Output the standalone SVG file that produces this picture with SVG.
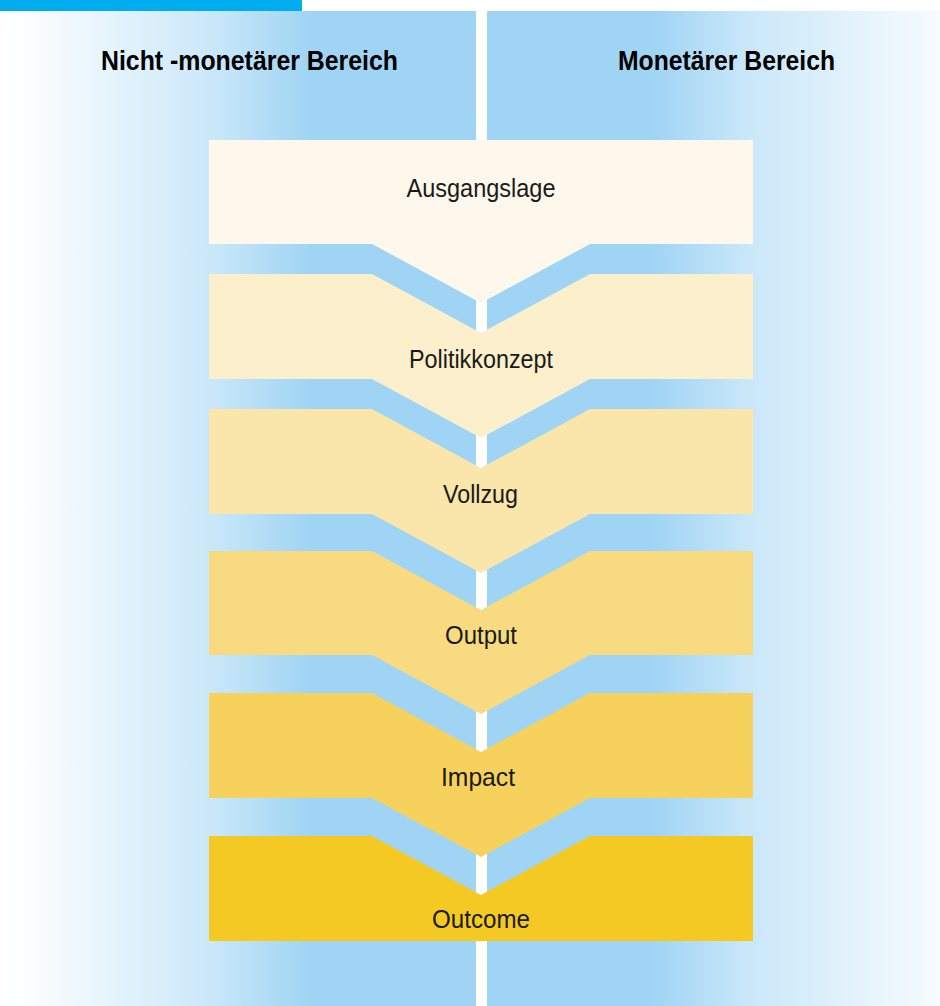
<svg xmlns="http://www.w3.org/2000/svg" width="940" height="1006" viewBox="0 0 940 1006">
  <defs>
    <linearGradient id="gl" gradientUnits="userSpaceOnUse" x1="0" y1="0" x2="476" y2="0">
      <stop offset="0" stop-color="#FFFFFF"/>
      <stop offset="0.06" stop-color="#FBFDFF"/>
      <stop offset="0.44" stop-color="#CBE8F9"/>
      <stop offset="0.655" stop-color="#9FD4F4"/>
      <stop offset="1" stop-color="#9FD4F4"/>
    </linearGradient>
    <linearGradient id="gr" gradientUnits="userSpaceOnUse" x1="487" y1="0" x2="940" y2="0">
      <stop offset="0" stop-color="#9FD4F4"/>
      <stop offset="0.362" stop-color="#9FD4F4"/>
      <stop offset="0.587" stop-color="#CBE8F9"/>
      <stop offset="1" stop-color="#F7FBFE"/>
    </linearGradient>
    <style>
      .hdr { font-family: "Liberation Sans", Arial, sans-serif; font-weight: bold; font-size: 27px; fill: #000; }
      .lbl { font-family: "Liberation Sans", Arial, sans-serif; font-size: 25px; fill: #1a1a1a; text-anchor: middle; }
    </style>
  </defs>

  <rect x="0" y="0" width="940" height="1006" fill="#FFFFFF"/>
  <rect x="0" y="0" width="302" height="11" fill="#00AEEF"/>
  <rect x="0" y="11" width="476" height="995" fill="url(#gl)"/>
  <rect x="487" y="11" width="453" height="995" fill="url(#gr)"/>

  <text class="hdr" x="101" y="70" textLength="297" lengthAdjust="spacingAndGlyphs">Nicht -monetärer Bereich</text>
  <text class="hdr" x="618" y="70" textLength="217" lengthAdjust="spacingAndGlyphs">Monetärer Bereich</text>

  <g id="ausgangslage">
    <path d="M209,140 H753 V244 H590 L481,303 L372,244 H209 Z" fill="#FEF8EC"/>
    <text class="lbl" x="481" y="197" textLength="149" lengthAdjust="spacingAndGlyphs">Ausgangslage</text>
  </g>
  <g id="politikkonzept">
    <path d="M209,274 H372 L481,333 L590,274 H753 V379 H590 L481,438 L372,379 H209 Z" fill="#FCEFCB"/>
    <text class="lbl" x="481" y="368" textLength="144" lengthAdjust="spacingAndGlyphs">Politikkonzept</text>
  </g>
  <g id="vollzug">
    <path d="M209,409 H372 L481,468 L590,409 H753 V514 H590 L481,573 L372,514 H209 Z" fill="#FAE5AA"/>
    <text class="lbl" x="480.5" y="503" textLength="75" lengthAdjust="spacingAndGlyphs">Vollzug</text>
  </g>
  <g id="output">
    <path d="M209,551 H372 L481,610 L590,551 H753 V655 H590 L481,714 L372,655 H209 Z" fill="#F8DB80"/>
    <text class="lbl" x="481" y="644" textLength="72" lengthAdjust="spacingAndGlyphs">Output</text>
  </g>
  <g id="impact">
    <path d="M209,693 H372 L481,752 L590,693 H753 V798 H590 L481,857 L372,798 H209 Z" fill="#F6D25C"/>
    <text class="lbl" x="478" y="786" textLength="74" lengthAdjust="spacingAndGlyphs">Impact</text>
  </g>
  <g id="outcome">
    <path d="M209,836 H372 L481,895 L590,836 H753 V941 H209 Z" fill="#F4C924"/>
    <text class="lbl" x="481" y="928" textLength="98" lengthAdjust="spacingAndGlyphs">Outcome</text>
  </g>
</svg>
